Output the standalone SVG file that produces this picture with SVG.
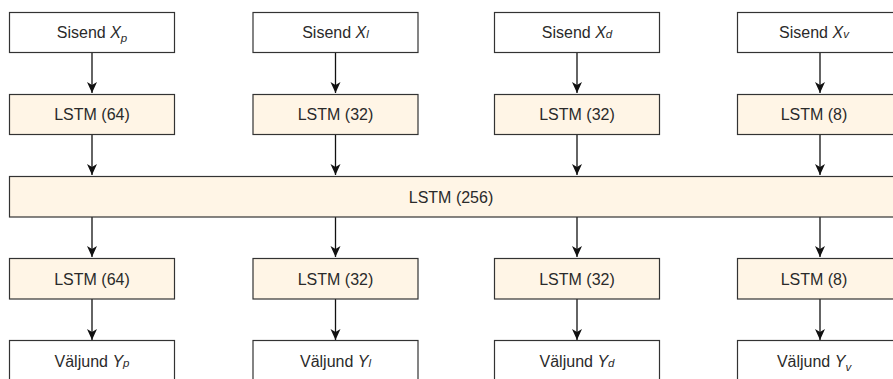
<svg xmlns="http://www.w3.org/2000/svg" width="893" height="379" viewBox="0 0 893 379">
<style>
.io{fill:#ffffff;stroke:#333333;stroke-width:1.2}
.ls{fill:#fff5e6;stroke:#333333;stroke-width:1.2}
text{font-family:"Liberation Sans",Arial,sans-serif;font-size:16px;fill:#2a2a2a;text-anchor:middle}
.i{font-style:italic}
.s{font-size:11.5px;font-style:italic}
.c{stroke:#111111;stroke-width:1.3;fill:none;marker-end:url(#ah)}
</style>
<defs>
<marker id="ah" markerWidth="12" markerHeight="12" viewBox="0 0 12 12" refX="11" refY="6" orient="auto" markerUnits="userSpaceOnUse">
<path d="M0,1 L11,6 L0,11 L3,6 Z" fill="#111111"/>
</marker>
</defs>
<g id="connectors">
<path class="c" d="M92,52 V93"/>
<path class="c" d="M335.5,52 V93"/>
<path class="c" d="M577,52 V93"/>
<path class="c" d="M820,52 V93"/>
<path class="c" d="M92,134 V175"/>
<path class="c" d="M335.5,134 V175"/>
<path class="c" d="M577,134 V175"/>
<path class="c" d="M820,134 V175"/>
<path class="c" d="M92,217 V257"/>
<path class="c" d="M335.5,217 V257"/>
<path class="c" d="M577,217 V257"/>
<path class="c" d="M820,217 V257"/>
<path class="c" d="M92,299 V340"/>
<path class="c" d="M335.5,299 V340"/>
<path class="c" d="M577,299 V340"/>
<path class="c" d="M820,299 V340"/>
</g>
<g id="in_p"><rect class="io" x="9.5" y="12.5" width="165" height="40"/><text x="92" y="38">Sisend <tspan class="i">X</tspan><tspan class="s" dy="4">p</tspan></text></g>
<g id="in_l"><rect class="io" x="253" y="12.5" width="165" height="40"/><text x="335.5" y="38">Sisend <tspan class="i">X</tspan><tspan class="s">l</tspan></text></g>
<g id="in_d"><rect class="io" x="494.5" y="12.5" width="165" height="40"/><text x="577" y="38">Sisend <tspan class="i">X</tspan><tspan class="s">d</tspan></text></g>
<g id="in_v"><rect class="io" x="737.5" y="12.5" width="165" height="40"/><text x="814" y="38">Sisend <tspan class="i">X</tspan><tspan class="s">v</tspan></text></g>

<g id="l1_p"><rect class="ls" x="9.5" y="94.5" width="165" height="40"/><text x="92" y="120">LSTM (64)</text></g>
<g id="l1_l"><rect class="ls" x="253" y="94.5" width="165" height="40"/><text x="335.5" y="120">LSTM (32)</text></g>
<g id="l1_d"><rect class="ls" x="494.5" y="94.5" width="165" height="40"/><text x="577" y="120">LSTM (32)</text></g>
<g id="l1_v"><rect class="ls" x="737.5" y="94.5" width="165" height="40"/><text x="814" y="120">LSTM (8)</text></g>

<g id="l2"><rect class="ls" x="9.5" y="176.5" width="900" height="40.5"/><text x="451" y="202.5">LSTM (256)</text></g>

<g id="l3_p"><rect class="ls" x="9.5" y="258.5" width="165" height="40.5"/><text x="92" y="284.5">LSTM (64)</text></g>
<g id="l3_l"><rect class="ls" x="253" y="258.5" width="165" height="40.5"/><text x="335.5" y="284.5">LSTM (32)</text></g>
<g id="l3_d"><rect class="ls" x="494.5" y="258.5" width="165" height="40.5"/><text x="577" y="284.5">LSTM (32)</text></g>
<g id="l3_v"><rect class="ls" x="737.5" y="258.5" width="165" height="40.5"/><text x="814" y="284.5">LSTM (8)</text></g>

<g id="out_p"><rect class="io" x="9.5" y="340.5" width="165" height="45"/><text x="92" y="367">Väljund <tspan class="i">Y</tspan><tspan class="s">p</tspan></text></g>
<g id="out_l"><rect class="io" x="253" y="340.5" width="165" height="45"/><text x="335.5" y="367">Väljund <tspan class="i">Y</tspan><tspan class="s">l</tspan></text></g>
<g id="out_d"><rect class="io" x="494.5" y="340.5" width="165" height="45"/><text x="577" y="367">Väljund <tspan class="i">Y</tspan><tspan class="s">d</tspan></text></g>
<g id="out_v"><rect class="io" x="737.5" y="340.5" width="165" height="45"/><text x="814" y="367">Väljund <tspan class="i">Y</tspan><tspan class="s" dy="4">v</tspan></text></g>
</svg>
